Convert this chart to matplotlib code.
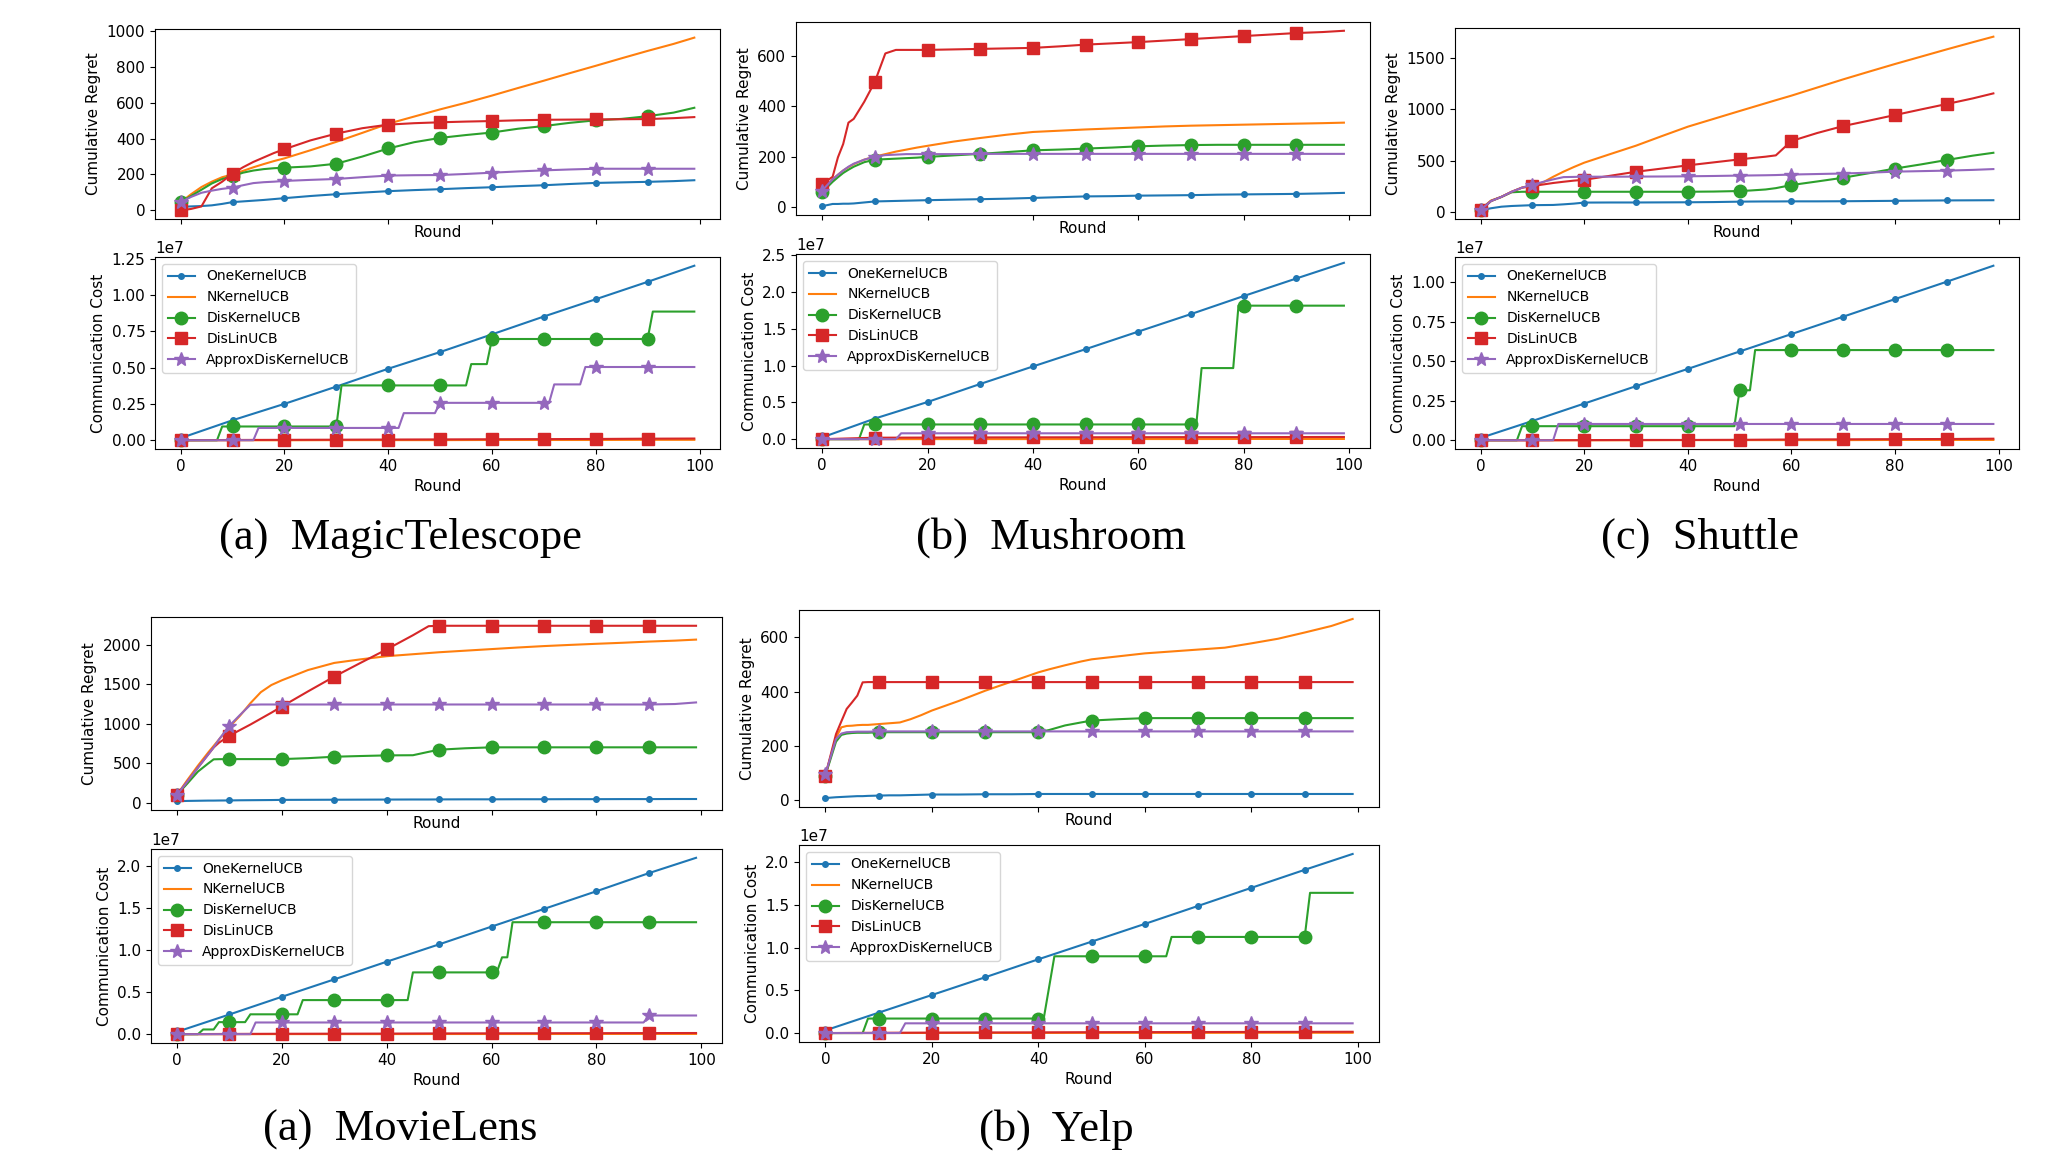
import numpy as np
import matplotlib
matplotlib.use("Agg")
import matplotlib.pyplot as plt

# ---------------- regret data (cumulative regret vs round) ----------------
magic_x = [0, 2, 4, 6, 8, 10, 12, 14, 16, 18, 20, 25, 30, 35, 40, 45, 50, 55, 60, 65, 70, 75, 80, 85, 90, 95, 99]
magic_one = [20, 22, 24, 28, 36, 46, 50, 54, 58, 63, 68, 80, 90, 99, 107, 113, 118, 124, 129, 135, 140, 147, 153, 156, 159, 163, 168]
magic_n = [45, 90, 130, 160, 185, 200, 220, 240, 258, 275, 290, 335, 382, 432, 483, 523, 563, 600, 640, 682, 723, 765, 806, 848, 889, 928, 963]
magic_dis = [45, 80, 115, 150, 175, 190, 210, 222, 230, 235, 238, 245, 260, 300, 345, 380, 404, 420, 434, 455, 470, 488, 502, 510, 525, 545, 572]
magic_lin = [0, 8, 22, 123, 160, 205, 240, 270, 295, 320, 341, 390, 428, 458, 478, 486, 491, 495, 498, 502, 505, 506, 507, 508, 509, 514, 520]
magic_approx = [46, 75, 98, 110, 120, 127, 140, 152, 157, 160, 164, 170, 175, 185, 194, 196, 197, 203, 210, 217, 223, 228, 232, 232, 232, 232, 232]

mush_x = [0, 2, 3, 4, 5, 6, 8, 10, 12, 14, 16, 18, 20, 25, 30, 35, 40, 45, 50, 55, 60, 65, 70, 75, 80, 85, 90, 95, 99]
mush_one = [3, 12, 12, 13, 13, 14, 18, 22, 23, 24, 25, 26, 27, 29, 31, 33, 36, 39, 42, 43, 45, 46, 47, 49, 50, 51, 52, 54, 56]
mush_n = [65, 110, 128, 145, 158, 170, 188, 200, 210, 220, 228, 236, 243, 260, 274, 287, 298, 303, 308, 312, 316, 320, 323, 325, 327, 329, 331, 333, 335]
mush_dis = [58, 100, 118, 135, 148, 160, 178, 188, 190, 192, 194, 196, 199, 205, 211, 218, 225, 228, 232, 236, 241, 244, 246, 247, 247, 247, 247, 247, 247]
mush_lin = [90, 120, 197, 250, 335, 350, 418, 497, 610, 624, 624, 624, 624, 626, 628, 630, 632, 638, 645, 650, 655, 661, 667, 673, 679, 685, 691, 695, 700]
mush_approx = [65, 110, 128, 145, 160, 172, 188, 200, 206, 208, 210, 210, 210, 210, 211, 211, 211, 211, 211, 211, 211, 211, 211, 211, 211, 211, 211, 211, 211]

shut_x = [0, 2, 4, 6, 8, 10, 12, 14, 16, 18, 20, 25, 30, 35, 40, 45, 50, 52, 55, 57, 60, 65, 70, 75, 80, 85, 90, 95, 99]
shut_one = [20, 40, 55, 62, 66, 70, 71, 72, 78, 85, 95, 96, 96, 97, 98, 100, 104, 105, 106, 106, 107, 107, 108, 110, 112, 114, 116, 117, 118]
shut_n = [30, 115, 150, 200, 240, 262, 290, 345, 395, 440, 482, 565, 647, 740, 831, 907, 983, 1013, 1058, 1088, 1132, 1211, 1290, 1365, 1439, 1510, 1581, 1650, 1704]
shut_dis = [20, 110, 150, 195, 200, 200, 200, 200, 200, 200, 200, 200, 200, 200, 200, 202, 207, 212, 222, 235, 265, 300, 336, 380, 425, 465, 508, 550, 578]
shut_lin = [22, 110, 150, 200, 240, 255, 270, 285, 297, 308, 316, 355, 394, 425, 456, 485, 514, 525, 540, 553, 692, 770, 837, 890, 944, 998, 1051, 1105, 1154]
shut_approx = [25, 110, 150, 200, 240, 268, 295, 320, 342, 344, 346, 346, 347, 348, 350, 353, 357, 358, 360, 362, 367, 372, 377, 385, 395, 400, 405, 412, 420]

movie_x = [0, 2, 4, 6, 7, 8, 10, 12, 14, 16, 18, 20, 25, 30, 35, 40, 45, 48, 50, 55, 60, 65, 70, 75, 80, 85, 90, 95, 99]
movie_one = [20, 24, 26, 28, 28, 29, 30, 32, 33, 34, 35, 37, 38, 39, 40, 41, 42, 42, 43, 44, 44, 45, 45, 46, 46, 47, 47, 48, 48]
movie_n = [100, 290, 470, 640, 720, 800, 960, 1100, 1260, 1400, 1490, 1550, 1680, 1770, 1815, 1855, 1880, 1895, 1905, 1925, 1945, 1965, 1983, 1998, 2012, 2025, 2040, 2052, 2065]
movie_dis = [100, 245, 395, 500, 550, 552, 553, 553, 553, 553, 553, 553, 565, 583, 592, 600, 602, 645, 672, 690, 702, 702, 702, 702, 702, 702, 702, 702, 702]
movie_lin = [100, 270, 445, 615, 700, 760, 849, 920, 990, 1065, 1140, 1218, 1410, 1597, 1770, 1941, 2120, 2235, 2240, 2240, 2240, 2240, 2240, 2240, 2240, 2240, 2240, 2240, 2240]
movie_approx = [100, 270, 445, 615, 700, 800, 975, 1110, 1240, 1244, 1244, 1244, 1244, 1244, 1244, 1244, 1244, 1244, 1244, 1244, 1244, 1244, 1244, 1244, 1244, 1244, 1244, 1250, 1270]

yelp_x = [0, 2, 3, 4, 5, 6, 7, 8, 10, 12, 14, 16, 18, 20, 25, 30, 35, 40, 42, 45, 48, 50, 55, 60, 65, 70, 75, 80, 85, 90, 95, 99]
yelp_one = [7, 10, 11, 12, 13, 14, 14, 15, 16, 17, 17, 18, 19, 20, 20, 21, 21, 22, 22, 22, 22, 22, 22, 22, 22, 22, 22, 22, 22, 22, 22, 22]
yelp_n = [90, 230, 268, 273, 274, 276, 277, 277, 280, 283, 286, 298, 313, 330, 365, 403, 437, 471, 482, 497, 511, 519, 530, 541, 548, 555, 562, 578, 595, 618, 642, 668]
yelp_dis = [90, 215, 240, 245, 247, 248, 248, 248, 250, 250, 250, 250, 250, 250, 250, 250, 250, 250, 258, 275, 286, 293, 298, 302, 302, 302, 302, 302, 302, 302, 302, 302]
yelp_lin = [90, 243, 290, 336, 360, 385, 434, 435, 435, 435, 435, 435, 435, 435, 435, 435, 435, 435, 435, 435, 435, 435, 435, 435, 435, 435, 435, 435, 435, 435, 435, 435]
yelp_approx = [95, 225, 245, 250, 251, 252, 252, 252, 253, 253, 253, 253, 253, 253, 253, 253, 253, 253, 253, 253, 253, 253, 253, 253, 253, 253, 253, 253, 253, 253, 253, 253]

# ---------------- communication cost data (in units of 1e7) ----------------
cost_x = [0, 10, 20, 30, 40, 50, 60, 70, 80, 90, 99]

magic_cost_one = [0.015, 0.138, 0.251, 0.37, 0.493, 0.608, 0.73, 0.853, 0.972, 1.092, 1.203]
magic_cost_n = [0.0, 0.0, 0.0, 0.001, 0.001, 0.001, 0.002, 0.002, 0.002, 0.003, 0.003]
magic_cost_lin = [0.0, 0.002, 0.003, 0.004, 0.005, 0.006, 0.007, 0.008, 0.009, 0.011, 0.012]
magic_cost_dis_x = [0, 7, 8, 10, 20, 30, 31, 40, 50, 55, 56, 59, 60, 70, 80, 90, 91, 99]
magic_cost_dis = [0, 0, 0.095, 0.095, 0.095, 0.095, 0.378, 0.378, 0.378, 0.378, 0.525, 0.525, 0.698, 0.698, 0.698, 0.698, 0.887, 0.887]
magic_cost_approx_x = [0, 10, 14, 15, 20, 30, 40, 42, 43, 49, 50, 60, 70, 71, 72, 77, 78, 80, 90, 99]
magic_cost_approx = [0, 0, 0, 0.085, 0.085, 0.085, 0.085, 0.085, 0.187, 0.187, 0.258, 0.258, 0.258, 0.258, 0.385, 0.385, 0.505, 0.505, 0.505, 0.505]

mush_cost_one = [0.024, 0.28, 0.505, 0.75, 0.988, 1.223, 1.462, 1.70, 1.945, 2.184, 2.396]
mush_cost_n = [0.0, 0.0, 0.001, 0.001, 0.001, 0.002, 0.002, 0.002, 0.003, 0.003, 0.003]
mush_cost_lin = [0.0, 0.02, 0.022, 0.024, 0.025, 0.026, 0.027, 0.028, 0.028, 0.029, 0.03]
mush_cost_dis_x = [0, 7, 8, 10, 20, 30, 40, 50, 60, 70, 71, 72, 78, 79, 80, 90, 99]
mush_cost_dis = [0, 0, 0.2, 0.2, 0.2, 0.2, 0.2, 0.2, 0.2, 0.2, 0.2, 0.966, 0.966, 1.814, 1.814, 1.814, 1.814]
mush_cost_approx_x = [0, 10, 14, 15, 20, 30, 40, 50, 60, 70, 80, 90, 99]
mush_cost_approx = [0, 0, 0, 0.08, 0.08, 0.08, 0.08, 0.08, 0.08, 0.08, 0.08, 0.08, 0.08]

shut_cost_one = [0.015, 0.122, 0.232, 0.342, 0.451, 0.561, 0.671, 0.781, 0.892, 1.002, 1.103]
shut_cost_n = [0.0, 0.0, 0.0, 0.0, 0.001, 0.001, 0.001, 0.001, 0.002, 0.002, 0.002]
shut_cost_lin = [0.0, 0.0, 0.001, 0.002, 0.002, 0.003, 0.005, 0.006, 0.007, 0.008, 0.01]
shut_cost_dis_x = [0, 7, 8, 10, 20, 30, 40, 49, 50, 52, 53, 60, 70, 80, 90, 99]
shut_cost_dis = [0, 0, 0.089, 0.089, 0.089, 0.089, 0.089, 0.089, 0.316, 0.316, 0.57, 0.57, 0.57, 0.57, 0.57, 0.57]
shut_cost_approx_x = [0, 10, 14, 15, 20, 30, 40, 50, 60, 70, 80, 90, 99]
shut_cost_approx = [0, 0, 0, 0.103, 0.103, 0.103, 0.103, 0.103, 0.103, 0.103, 0.103, 0.103, 0.103]

movie_cost_one = [0.028, 0.234, 0.444, 0.651, 0.861, 1.067, 1.278, 1.488, 1.698, 1.913, 2.095]
movie_cost_n = [0.0, 0.0, 0.001, 0.001, 0.001, 0.002, 0.002, 0.002, 0.003, 0.003, 0.003]
movie_cost_lin = [0.0, 0.003, 0.005, 0.006, 0.007, 0.009, 0.01, 0.011, 0.012, 0.013, 0.014]
movie_cost_dis_x = [0, 4, 5, 7, 8, 10, 13, 14, 20, 23, 24, 30, 40, 44, 45, 50, 60, 61, 62, 63, 64, 70, 80, 90, 99]
movie_cost_dis = [0, 0, 0.056, 0.056, 0.143, 0.143, 0.143, 0.236, 0.236, 0.236, 0.405, 0.405, 0.405, 0.405, 0.734, 0.734, 0.734, 0.734, 0.913, 0.913, 1.33, 1.33, 1.33, 1.33, 1.33]
movie_cost_approx_x = [0, 10, 14, 15, 20, 30, 40, 50, 60, 70, 80, 89, 90, 99]
movie_cost_approx = [0, 0, 0, 0.139, 0.139, 0.139, 0.139, 0.139, 0.139, 0.139, 0.139, 0.139, 0.222, 0.222]

yelp_cost_one = [0.031, 0.239, 0.446, 0.654, 0.865, 1.072, 1.28, 1.491, 1.703, 1.914, 2.10]
yelp_cost_n = [0.0, 0.0, 0.001, 0.001, 0.001, 0.002, 0.002, 0.002, 0.003, 0.003, 0.003]
yelp_cost_lin = [0.0, 0.003, 0.005, 0.007, 0.008, 0.01, 0.011, 0.012, 0.013, 0.014, 0.015]
yelp_cost_dis_x = [0, 7, 8, 10, 20, 30, 40, 41, 43, 50, 60, 64, 65, 70, 80, 90, 91, 99]
yelp_cost_dis = [0, 0, 0.17, 0.17, 0.17, 0.17, 0.17, 0.17, 0.90, 0.90, 0.90, 0.90, 1.127, 1.127, 1.127, 1.127, 1.644, 1.644]
yelp_cost_approx_x = [0, 10, 14, 15, 20, 30, 40, 50, 60, 70, 80, 90, 99]
yelp_cost_approx = [0, 0, 0, 0.114, 0.114, 0.114, 0.114, 0.114, 0.114, 0.114, 0.114, 0.114, 0.114]

COST_UNIT = 1e7
methods = ["OneKernelUCB", "NKernelUCB", "DisKernelUCB", "DisLinUCB", "ApproxDisKernelUCB"]
colors = ["tab:blue", "tab:orange", "tab:green", "tab:red", "tab:purple"]
markers = [".", None, "o", "s", "*"]
msizes = [8, 0, 9, 9, 10]

W, H = 2046, 1153
fig = plt.figure(figsize=(W / 100, H / 100), dpi=100)


def add_ax(left, top, right, bottom):
    return fig.add_axes([left / W, 1 - bottom / H, (right - left) / W, (bottom - top) / H])


def draw(ax, series):
    for i, (x, y) in enumerate(series):
        x = np.asarray(x)
        mask = (x % 10 == 0) & (x < 100)
        ax.plot(x, y, color=colors[i], marker=markers[i], markersize=msizes[i],
                markevery=list(mask), linewidth=1.5, label=methods[i])
    ax.tick_params(labelsize=11)


def panel(box_top, box_bot, regret, cost, caption, cap_xy):
    ax1 = add_ax(*box_top)
    draw(ax1, regret)
    ax1.set_ylabel("Cumulative Regret", fontsize=11)
    ax1.set_xlabel("Round", fontsize=11, labelpad=1)
    ax1.set_xticks([0, 20, 40, 60, 80, 100])
    ax1.tick_params(labelbottom=False)

    ax2 = add_ax(*box_bot)
    draw(ax2, [(x, np.asarray(y) * COST_UNIT) for x, y in cost])
    ax2.set_ylabel("Communication Cost", fontsize=11)
    ax2.set_xlabel("Round", fontsize=11)
    ax2.set_xticks([0, 20, 40, 60, 80, 100])
    ax2.yaxis.get_offset_text().set_fontsize(11)
    ax2.legend(loc="upper left", fontsize=10)

    fig.text(cap_xy[0] / W, 1 - cap_xy[1] / H, caption, ha="center", va="center",
             fontsize=32, family="Liberation Serif")


panel((155, 29, 720, 219), (155, 257, 720, 449),
      [(magic_x, magic_one), (magic_x, magic_n), (magic_x, magic_dis), (magic_x, magic_lin), (magic_x, magic_approx)],
      [(cost_x, magic_cost_one), (cost_x, magic_cost_n), (magic_cost_dis_x, magic_cost_dis),
       (cost_x, magic_cost_lin), (magic_cost_approx_x, magic_cost_approx)],
      "(a)  MagicTelescope", (400, 538))

panel((796, 22, 1370, 215), (796, 254, 1370, 448),
      [(mush_x, mush_one), (mush_x, mush_n), (mush_x, mush_dis), (mush_x, mush_lin), (mush_x, mush_approx)],
      [(cost_x, mush_cost_one), (cost_x, mush_cost_n), (mush_cost_dis_x, mush_cost_dis),
       (cost_x, mush_cost_lin), (mush_cost_approx_x, mush_cost_approx)],
      "(b)  Mushroom", (1051, 538))

panel((1455, 28, 2019, 219), (1455, 257, 2019, 449),
      [(shut_x, shut_one), (shut_x, shut_n), (shut_x, shut_dis), (shut_x, shut_lin), (shut_x, shut_approx)],
      [(cost_x, shut_cost_one), (cost_x, shut_cost_n), (shut_cost_dis_x, shut_cost_dis),
       (cost_x, shut_cost_lin), (shut_cost_approx_x, shut_cost_approx)],
      "(c)  Shuttle", (1700, 538))

panel((151, 617, 722, 810), (151, 849, 722, 1043),
      [(movie_x, movie_one), (movie_x, movie_n), (movie_x, movie_dis), (movie_x, movie_lin), (movie_x, movie_approx)],
      [(cost_x, movie_cost_one), (cost_x, movie_cost_n), (movie_cost_dis_x, movie_cost_dis),
       (cost_x, movie_cost_lin), (movie_cost_approx_x, movie_cost_approx)],
      "(a)  MovieLens", (400, 1130))

panel((799, 610, 1379, 807), (799, 845, 1379, 1042),
      [(yelp_x, yelp_one), (yelp_x, yelp_n), (yelp_x, yelp_dis), (yelp_x, yelp_lin), (yelp_x, yelp_approx)],
      [(cost_x, yelp_cost_one), (cost_x, yelp_cost_n), (yelp_cost_dis_x, yelp_cost_dis),
       (cost_x, yelp_cost_lin), (yelp_cost_approx_x, yelp_cost_approx)],
      "(b)  Yelp", (1056, 1130))

fig.savefig("out.png", dpi=100)
